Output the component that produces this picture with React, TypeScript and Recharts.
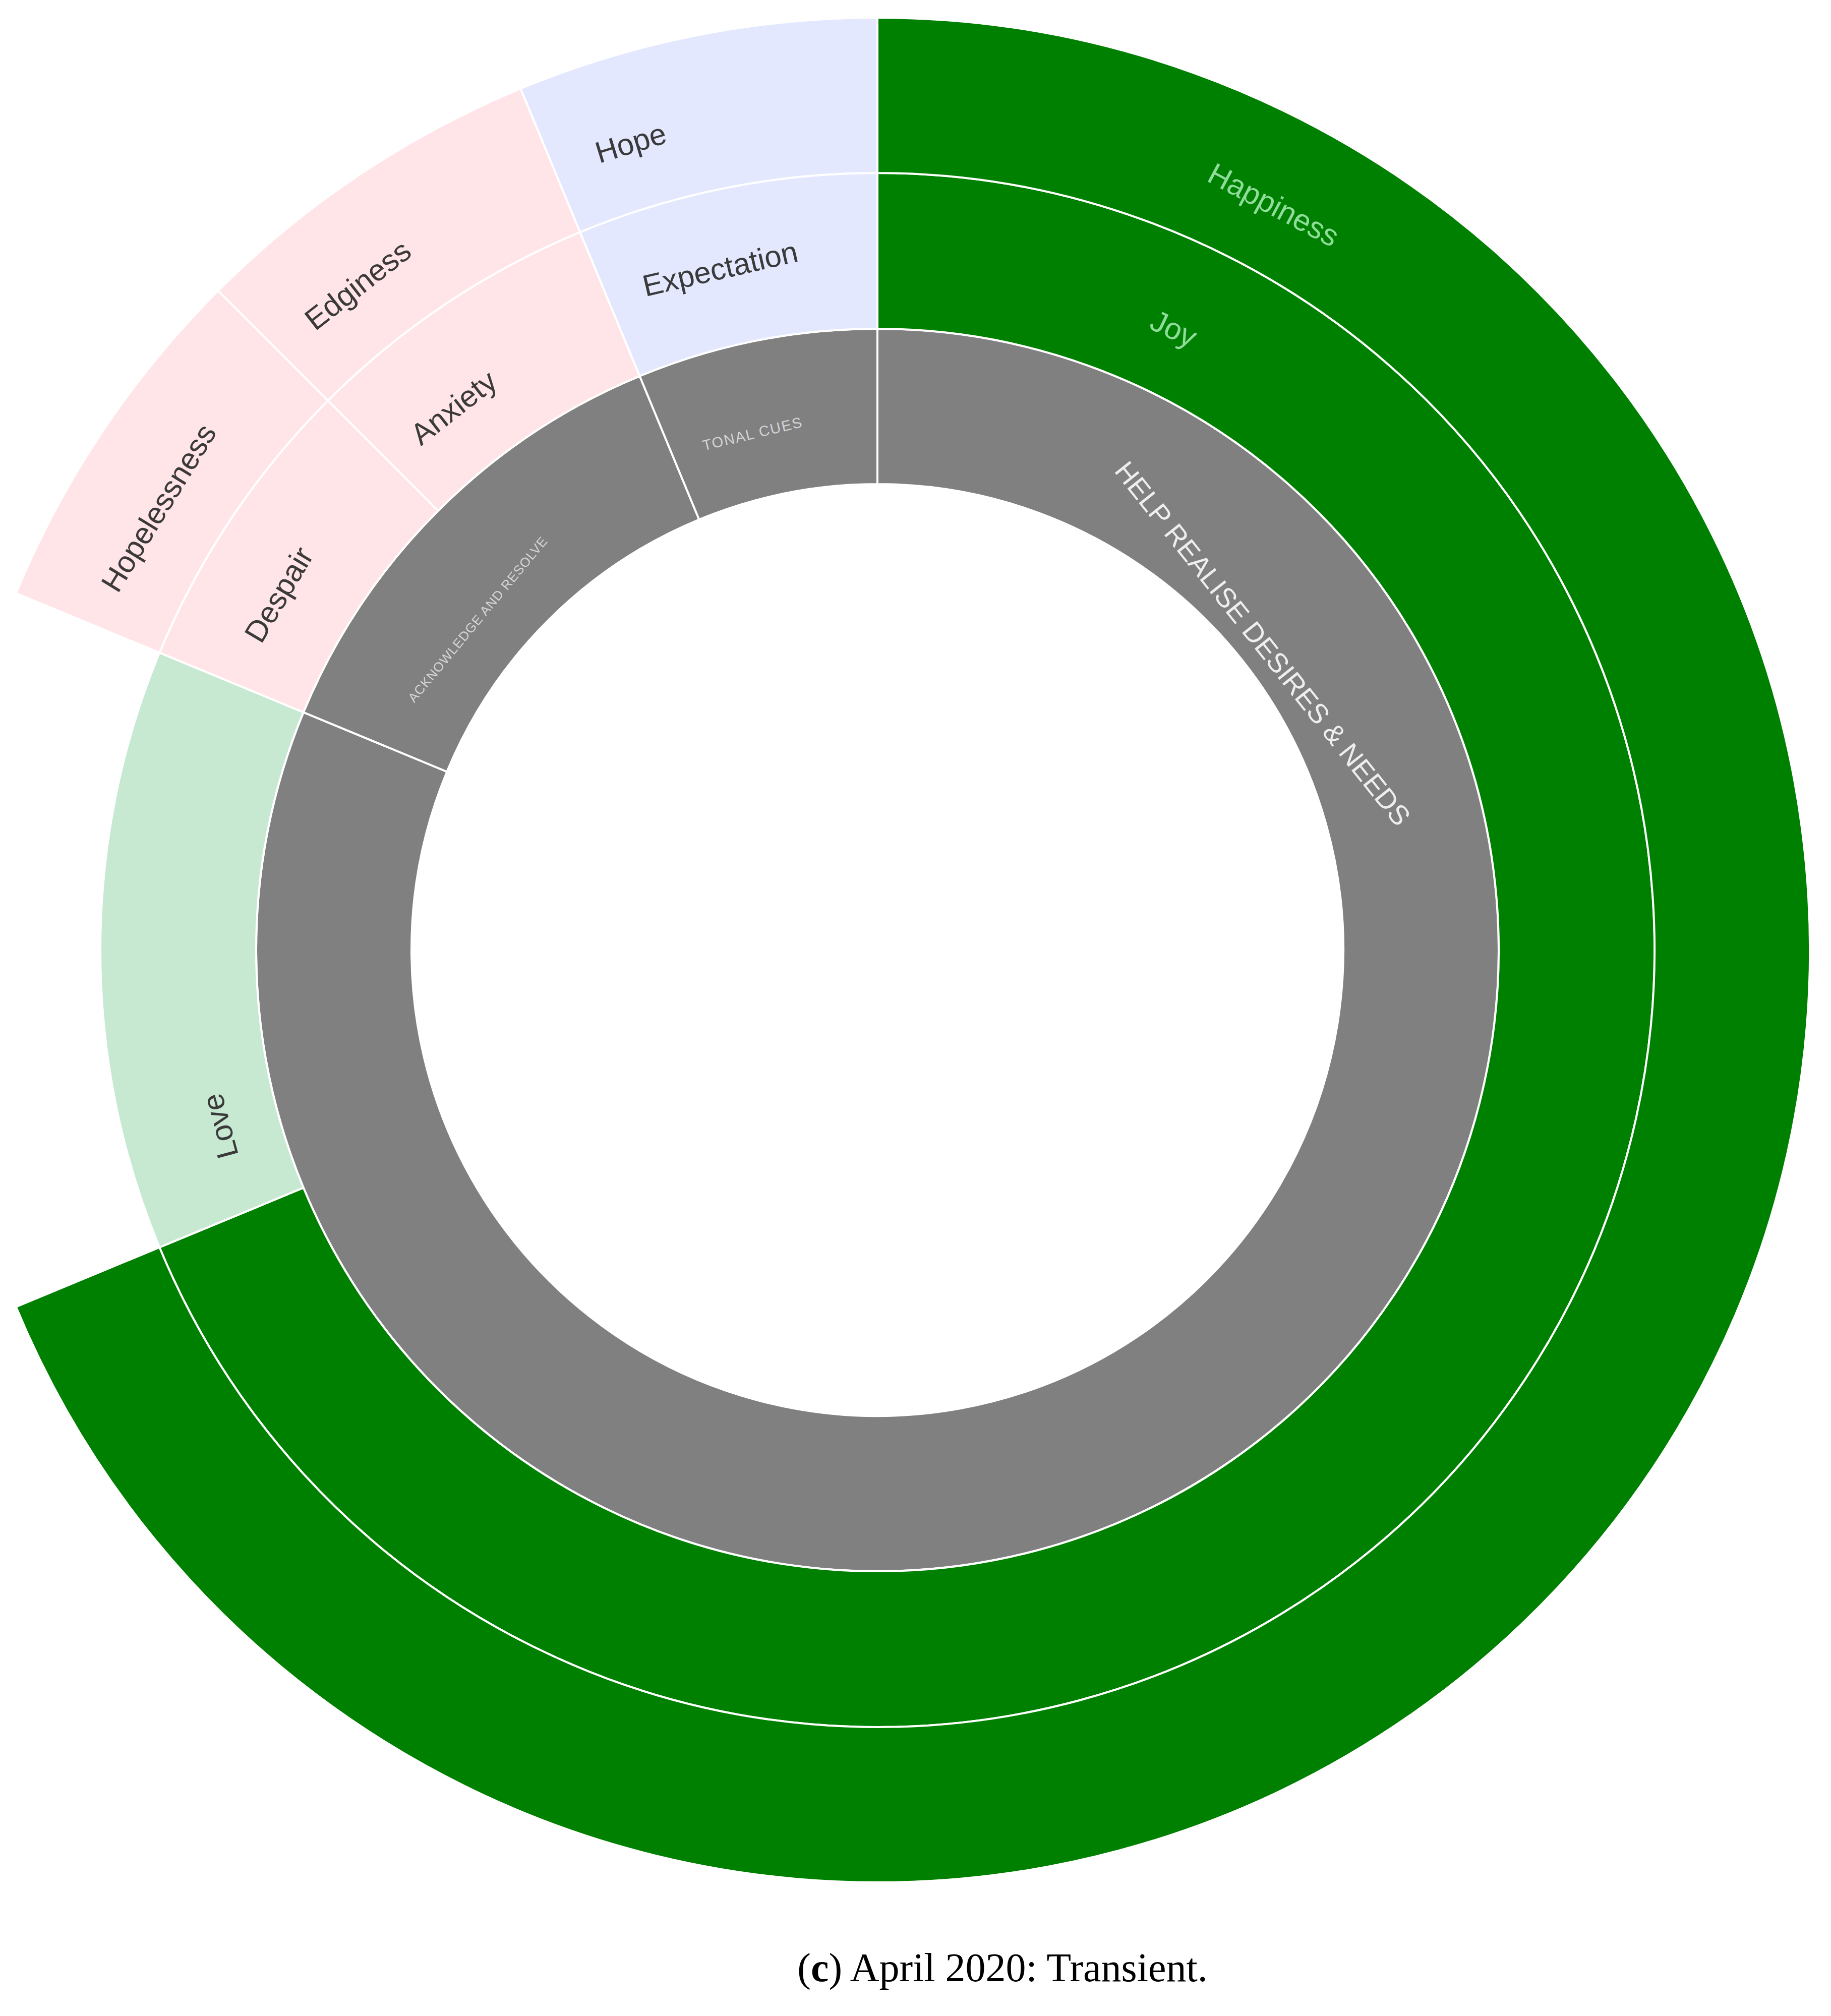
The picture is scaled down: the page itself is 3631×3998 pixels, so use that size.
import React from 'react';
import { PieChart, Pie, Cell } from 'recharts';

// inner ring: strategies
const strategyNames = ['HELP REALISE DESIRES & NEEDS', 'ACKNOWLEDGE AND RESOLVE', 'TONAL CUES'];
const strategyValues = [13, 2, 1];

// middle ring: emotions
const emotionNames = ['Joy', 'Love', 'Despair', 'Anxiety', 'Expectation'];
const emotionValues = [11, 2, 1, 1, 1];

// outer ring: broader feelings ('' = no outer segment above Love)
const feelingNames = ['Happiness', '', 'Hopelessness', 'Edginess', 'Hope'];
const feelingValues = [11, 2, 1, 1, 1];

const caption = 'April 2020: Transient.';

const COLORS: Record<string, string> = {
  'HELP REALISE DESIRES & NEEDS': '#808080',
  'ACKNOWLEDGE AND RESOLVE': '#808080',
  'TONAL CUES': '#808080',
  Joy: '#008000',
  Happiness: '#008000',
  Love: '#c7e8d1',
  Despair: '#ffe4e8',
  Anxiety: '#ffe4e8',
  Hopelessness: '#ffe4e8',
  Edginess: '#ffe4e8',
  Expectation: '#e4e8fe',
  Hope: '#e4e8fe',
};

// where each label sits: compass angle (deg, clockwise from top) and fraction across the ring
const LABEL_LAYOUT: Record<string, [number, number]> = {
  Happiness: [28, 0.43],
  Hopelessness: [301.6, 0.43],
  Edginess: [322, 0.43],
  Hope: [343, 0.43],
  Joy: [25.5, 0.43],
  Love: [255, 0.38],
  Despair: [300.7, 0.48],
  Anxiety: [322, 0.43],
  Expectation: [347, 0.5],
  'HELP REALISE DESIRES & NEEDS': [51.5, 0.17],
  'ACKNOWLEDGE AND RESOLVE': [309.6, 0.34],
  'TONAL CUES': [346.4, 0.42],
};

const LABEL_STYLE: Record<string, { fill: string; size: number; spacing?: number }> = {
  Happiness: { fill: '#8fdc9b', size: 60 },
  Joy: { fill: '#8fdc9b', size: 60 },
  'HELP REALISE DESIRES & NEEDS': { fill: '#eeeeee', size: 55 },
  'ACKNOWLEDGE AND RESOLVE': { fill: '#d4d4d4', size: 26, spacing: 1 },
  'TONAL CUES': { fill: '#d4d4d4', size: 29, spacing: 2 },
};

const toRows = (names: string[], values: number[]) =>
  names.map((name, i) => ({ name, value: values[i] }));

const strategyData = toRows(strategyNames, strategyValues);
const emotionData = toRows(emotionNames, emotionValues);
const feelingData = toRows(feelingNames, feelingValues);

const renderLabel = (props: any) => {
  const { cx, cy, innerRadius, outerRadius, name } = props;
  const layout = LABEL_LAYOUT[name];
  if (!name || !layout) return null;
  const [angle, frac] = layout;
  const r = innerRadius + (outerRadius - innerRadius) * frac;
  const rad = (angle * Math.PI) / 180;
  const x = cx + r * Math.sin(rad);
  const y = cy - r * Math.cos(rad);
  const rot = angle > 180 ? angle - 360 : angle;
  const style = LABEL_STYLE[name] || { fill: '#3a3a3a', size: 60 };
  return (
    <text
      x={x}
      y={y}
      transform={`rotate(${rot} ${x} ${y})`}
      textAnchor="middle"
      dominantBaseline="central"
      fill={style.fill}
      fontSize={style.size}
      letterSpacing={style.spacing || 0}
      fontFamily="'Liberation Sans', Arial, sans-serif"
    >
      {name}
    </text>
  );
};

const ringProps = {
  cx: 1740,
  cy: 1884,
  startAngle: 90,
  endAngle: -270,
  dataKey: 'value',
  stroke: '#ffffff',
  strokeWidth: 4,
  labelLine: false,
  label: renderLabel,
  isAnimationActive: false,
};

export default function App() {
  return (
    <div style={{ position: 'absolute', left: 0, top: 0, width: 3631, height: 3998, background: '#fff' }}>
      <PieChart width={3631} height={3998} margin={{ top: 0, right: 0, bottom: 0, left: 0 }}>
        <Pie data={strategyData} innerRadius={924} outerRadius={1232} {...ringProps}>
          {strategyData.map((d) => (
            <Cell key={d.name} fill={COLORS[d.name]} />
          ))}
        </Pie>
        <Pie data={emotionData} innerRadius={1232} outerRadius={1541} {...ringProps}>
          {emotionData.map((d) => (
            <Cell key={d.name} fill={COLORS[d.name]} />
          ))}
        </Pie>
        <Pie data={feelingData} innerRadius={1541} outerRadius={1849} {...ringProps}>
          {feelingData.map((d, i) =>
            d.name ? (
              <Cell key={d.name} fill={COLORS[d.name]} />
            ) : (
              <Cell key={'gap' + i} fill="none" stroke="none" />
            )
          )}
        </Pie>
      </PieChart>
      <div
        style={{
          position: 'absolute',
          left: 988,
          top: 3860,
          width: 2000,
          textAlign: 'center',
          fontFamily: "'Liberation Serif', 'DejaVu Serif', serif",
          fontSize: 80,
          lineHeight: '84px',
          color: '#000',
        }}
      >
        (<b>c</b>) {caption}
      </div>
    </div>
  );
}
